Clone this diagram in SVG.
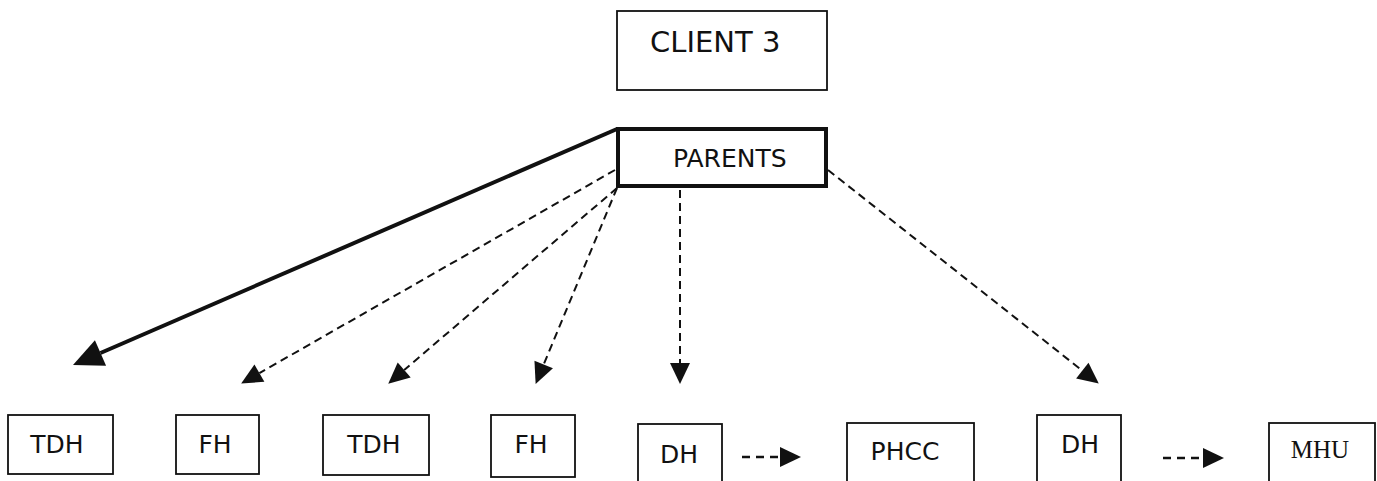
<svg xmlns="http://www.w3.org/2000/svg" width="1377" height="481" viewBox="0 0 1377 481">
<style>
.box{fill:#fff;stroke:#111;stroke-width:1.8}
.thick{fill:#fff;stroke:#111;stroke-width:4}
.lbl{font-family:"DejaVu Sans","Liberation Sans",sans-serif;font-size:25px;fill:#111}
.mid{text-anchor:middle}
.dash{fill:none;stroke:#111;stroke-width:2;stroke-dasharray:8 5}
.hdash{fill:none;stroke:#111;stroke-width:2.6;stroke-dasharray:8 6}
.solid{fill:none;stroke:#111;stroke-width:4}
</style>
<defs>
<marker id="head" markerUnits="userSpaceOnUse" markerWidth="22" markerHeight="20" refX="0" refY="10" orient="auto" overflow="visible">
<path d="M0,0 L21,10 L0,20 z" fill="#111"/>
</marker>
<marker id="bighead" markerUnits="userSpaceOnUse" markerWidth="31" markerHeight="30" refX="0" refY="14" orient="auto" overflow="visible">
<path d="M0,0 L30,14 L0,28 z" fill="#111"/>
</marker>
</defs>
<rect width="1377" height="481" fill="#fff"/>
<g id="connectors">
<line class="solid" x1="617" y1="129" x2="100.5" y2="353" marker-end="url(#bighead)"/>
<line class="dash" x1="615" y1="170" x2="259.4" y2="373.1" marker-end="url(#head)"/>
<line class="dash" x1="617" y1="188" x2="404.2" y2="370" marker-end="url(#head)"/>
<line class="dash" x1="617" y1="188" x2="543.7" y2="364.5" marker-end="url(#head)"/>
<line class="dash" x1="680" y1="190" x2="680" y2="363" marker-end="url(#head)"/>
<line class="dash" x1="828" y1="170" x2="1082.3" y2="370.6" marker-end="url(#head)"/>
<line class="hdash" x1="742" y1="457" x2="780" y2="457" marker-end="url(#head)"/>
<line class="hdash" x1="1163" y1="458" x2="1203" y2="458" marker-end="url(#head)"/>
</g>
<g id="client3">
<rect class="box" x="617" y="11" width="210" height="79"/>
<text class="lbl" style="font-size:29px" x="650" y="52">CLIENT 3</text>
</g>
<g id="parents">
<rect class="thick" x="618" y="129" width="208" height="57"/>
<text class="lbl" x="673" y="167">PARENTS</text>
</g>
<g id="tdh1">
<rect class="box" x="8" y="415" width="105" height="59"/>
<text class="lbl mid" x="57" y="453">TDH</text>
</g>
<g id="fh1">
<rect class="box" x="176" y="415" width="83" height="59"/>
<text class="lbl mid" x="215" y="453">FH</text>
</g>
<g id="tdh2">
<rect class="box" x="323" y="415" width="106" height="60"/>
<text class="lbl mid" x="374" y="453">TDH</text>
</g>
<g id="fh2">
<rect class="box" x="491" y="415" width="84" height="62"/>
<text class="lbl mid" x="531" y="453">FH</text>
</g>
<g id="dh1">
<rect class="box" x="638" y="424" width="84" height="70"/>
<text class="lbl mid" x="679" y="463">DH</text>
</g>
<g id="phcc">
<rect class="box" x="847" y="423" width="127" height="70"/>
<text class="lbl mid" x="905" y="460">PHCC</text>
</g>
<g id="dh2">
<rect class="box" x="1037" y="415" width="84" height="80"/>
<text class="lbl mid" x="1080" y="453">DH</text>
</g>
<g id="mhu">
<rect class="box" x="1269" y="423" width="106" height="70"/>
<text class="mid" style="font-family:'Liberation Serif',serif;font-size:25px;fill:#111" x="1320" y="458">MHU</text>
</g>
</svg>
